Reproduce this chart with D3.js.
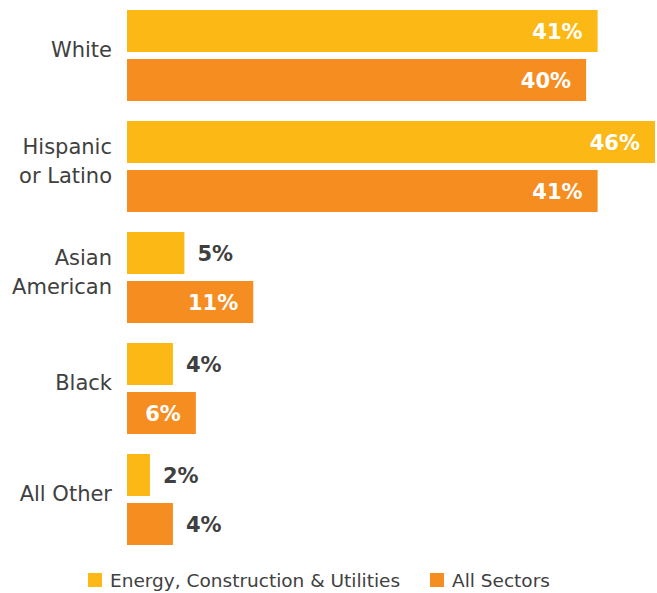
<!DOCTYPE html>
<html>
<head>
<meta charset="utf-8">
<script src="https://cdn.jsdelivr.net/npm/d3@7"></script>
<style>
  html, body { margin: 0; padding: 0; background: #fff; }
  svg { display: block; }
  text { font-family: "DejaVu Sans", sans-serif; }
</style>
</head>
<body>
<svg id="chart" width="657" height="593"></svg>
<script>
const categories = [["White"], ["Hispanic", "or Latino"], ["Asian", "American"], ["Black"], ["All Other"]];
const seriesNames = ["Energy, Construction & Utilities", "All Sectors"];
const energyValues = [41, 46, 5, 4, 2];
const allSectorValues = [40, 41, 11, 6, 4];
const colors = ["#FCB814", "#F68D21"];

const svg = d3.select("#chart");
const catKeys = categories.map(c => c.join(" "));
const x = d3.scaleLinear().domain([0, 46]).range([127, 655]);
const y0 = d3.scaleBand().domain(catKeys).range([10, 545]).paddingInner(20 / 111).paddingOuter(0);
const y1 = d3.scaleBand().domain(seriesNames).range([0, y0.bandwidth()]).paddingInner(7 / 49).paddingOuter(0);

const data = catKeys.map((k, i) => ({
  key: k, lines: categories[i],
  vals: [energyValues[i], allSectorValues[i]]
}));

const g = svg.selectAll("g.cat").data(data).enter().append("g")
  .attr("class", "cat")
  .attr("transform", d => `translate(0,${y0(d.key)})`);

g.selectAll("rect").data(d => d.vals.map((v, j) => ({ v, s: seriesNames[j], j })))
  .enter().append("rect")
  .attr("x", x(0))
  .attr("y", d => y1(d.s))
  .attr("width", d => x(d.v) - x(0))
  .attr("height", y1.bandwidth())
  .attr("fill", d => colors[d.j]);

g.selectAll("text.val").data(d => d.vals.map((v, j) => ({ v, s: seriesNames[j], j })))
  .enter().append("text")
  .attr("class", "val")
  .attr("x", d => d.v >= 6 ? x(d.v) - 15 : x(d.v) + 13)
  .attr("y", d => y1(d.s) + y1.bandwidth() / 2)
  .attr("dy", "0.36em")
  .attr("text-anchor", d => d.v >= 6 ? "end" : "start")
  .attr("fill", d => d.v >= 6 ? "#ffffff" : "#404040")
  .style("font-size", "21px")
  .style("font-weight", "bold")
  .text(d => d.v + "%");

// category labels
g.each(function(d) {
  const n = d.lines.length;
  const lh = 29;
  const cy = y0.bandwidth() / 2 - 6;
  const t = d3.select(this).append("text")
    .attr("text-anchor", "end")
    .attr("fill", "#404040")
    .style("font-size", "21px");
  d.lines.forEach((ln, i) => {
    t.append("tspan")
      .attr("x", 112)
      .attr("y", cy + (i - (n - 1) / 2) * lh)
      .attr("dy", "0.36em")
      .text(ln);
  });
});

// legend
const legendX = [88, 430];
const lg = svg.selectAll("g.leg").data(seriesNames).enter().append("g")
  .attr("class", "leg")
  .attr("transform", (d, i) => `translate(${legendX[i]},573)`);
lg.append("rect").attr("width", 14).attr("height", 14).attr("fill", (d, i) => colors[i]);
lg.append("text").attr("x", 22).attr("y", 7).attr("dy", "0.36em")
  .attr("fill", "#404040").style("font-size", "18.5px").text(d => d);
</script>
</body>
</html>
